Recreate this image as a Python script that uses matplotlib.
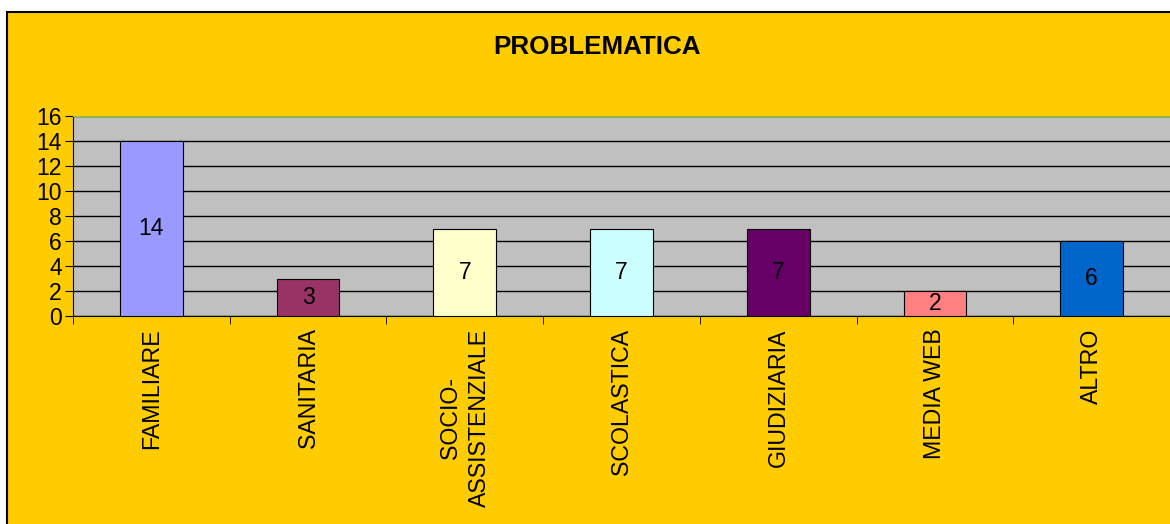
import matplotlib

matplotlib.use("Agg")

import matplotlib.pyplot as plt
import numpy as np
from matplotlib.patches import Rectangle

categories = ["FAMILIARE", "SANITARIA", "SOCIO-\nASSISTENZIALE", "SCOLASTICA",
              "GIUDIZIARIA", "MEDIA WEB", "ALTRO"]
values = [14, 3, 7, 7, 7, 2, 6]
bar_colors = ["#9999FF", "#993366", "#FFFFCC", "#CCFFFF", "#660066", "#FF8080", "#0066CC"]
y_ticks = [0, 2, 4, 6, 8, 10, 12, 14, 16]

plt.rcParams["font.family"] = ["Liberation Sans", "DejaVu Sans"]

fig = plt.figure(figsize=(11.7, 5.24), dpi=100, facecolor="white")
fig.patches.append(Rectangle((7 / 1170, -0.1), 1.1, (512 / 524) + 0.1,
                             transform=fig.transFigure, facecolor="#FFCC00",
                             edgecolor="black", linewidth=1.5, zorder=-10))

ax = fig.add_axes([73 / 1170, 1 - 316 / 524, 1 - 73 / 1170, 200 / 524])
ax.set_facecolor("#C0C0C0")

x = np.arange(len(categories))
ax.bar(x, values, width=0.4, color=bar_colors, edgecolor="black", linewidth=0.8, zorder=3)
for xi, v in zip(x, values):
    ax.text(xi, v / 2, str(v), ha="center", va="center", fontsize=16.5, zorder=4)

ax.set_xlim(-0.5, len(categories) - 0.5)
ax.set_ylim(0, 16)
ax.set_yticks(y_ticks)
ax.yaxis.grid(True, color="black", linewidth=1)
ax.set_axisbelow(True)
ax.tick_params(axis="y", labelsize=16.5, length=6, direction="out", pad=2)

ax.set_xticks(x)
ax.set_xticklabels(categories, rotation=90, fontsize=16.7, va="top", ha="center",
                   multialignment="center", linespacing=1.35)
ax.set_xticks(np.arange(len(categories) + 1) - 0.5, minor=True)
ax.tick_params(axis="x", which="major", length=0, pad=9)
ax.tick_params(axis="x", which="minor", length=6, direction="out")

ax.spines["right"].set_visible(False)
ax.spines["top"].set_color("#99CC00")
ax.spines["left"].set_color("black")
ax.spines["bottom"].set_color("black")

fig.text(597 / 1170, 1 - 47 / 524, "PROBLEMATICA", ha="center", va="center",
         fontsize=18.7, fontweight="bold")

plt.savefig("out.png", dpi=100, facecolor=fig.get_facecolor())
plt.close()
